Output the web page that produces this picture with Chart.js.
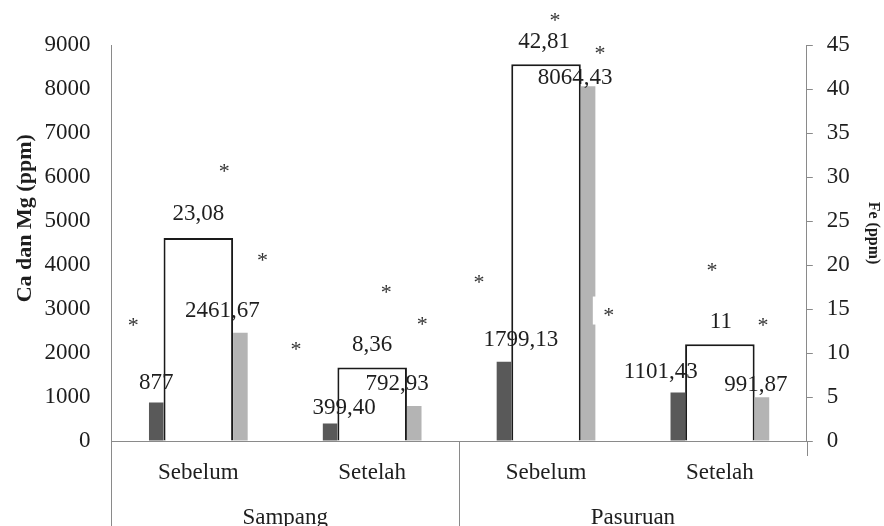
<!DOCTYPE html>
<html><head><meta charset="utf-8">
<script src="https://cdn.jsdelivr.net/npm/chart.js@4.4.0/dist/chart.umd.min.js"></script>
<style>html,body{margin:0;padding:0;background:#fff;}canvas{display:block;}</style>
</head><body>
<canvas id="c" width="884" height="526"></canvas>
<script>
// ---- data ----
const categories = ['Sebelum', 'Setelah', 'Sebelum', 'Setelah'];
const groups = ['Sampang', 'Pasuruan'];
const caValues = [877, 399.40, 1799.13, 1101.43];
const feValues = [23.08, 8.36, 42.81, 11];
const mgValues = [2461.67, 792.93, 8064.43, 991.87];
const leftAxisMax = 9000, leftAxisStep = 1000;
const rightAxisMax = 45, rightAxisStep = 5;
const leftTitle = 'Ca dan Mg (ppm)';
const rightTitle = 'Fe (ppm)';

const SERIF = '"Liberation Serif", "Times New Roman", serif';
const TXT = '#1e1e1e';
const AXIS = '#8a8a8a';
const FS = 23;

function fmt(v) {
  return Number.isInteger(v) ? String(v) : v.toFixed(2).replace('.', ',');
}

// value labels + asterisk markers, placed relative to each bar's top
const annotPlugin = {
  id: 'annot',
  afterDatasetsDraw(chart, args, opts) {
    const ctx = chart.ctx;
    ctx.save();
    ctx.textAlign = 'center';
    ctx.textBaseline = 'middle';
    ctx.font = '22px ' + SERIF;
    chart.data.datasets.forEach((ds, di) => {
      const meta = chart.getDatasetMeta(di);
      const key = ds.key;
      meta.data.forEach((bar, i) => {
        const a = opts.star[key][i];
        const sx = bar.x + a[0], sy = bar.y + a[1];
        ctx.fillStyle = '#fff';
        ctx.fillRect(sx - 16, sy - 14, 32, 28);
        ctx.fillStyle = '#333';
        ctx.fillText('*', sx, sy + 6);
      });
    });
    ctx.font = FS + 'px ' + SERIF;
    chart.data.datasets.forEach((ds, di) => {
      const meta = chart.getDatasetMeta(di);
      const key = ds.key;
      meta.data.forEach((bar, i) => {
        const n = opts.label[key][i];
        ctx.fillStyle = TXT;
        ctx.fillText(fmt(ds.data[i]), bar.x + n[0], bar.y + n[1]);
      });
    });
    ctx.restore();
  },
  afterDraw(chart) {
    const x2 = chart.scales.x2;
    const ca = chart.chartArea;
    const ctx = chart.ctx;
    ctx.save();
    ctx.strokeStyle = AXIS;
    ctx.lineWidth = 1;
    const xs = [x2.getPixelForValue(-0.5), x2.getPixelForValue(0.5)];
    xs.forEach(x => {
      const px = Math.round(x) + 0.5;
      ctx.beginPath(); ctx.moveTo(px, ca.bottom); ctx.lineTo(px, chart.height); ctx.stroke();
    });
    const rx = Math.round(x2.getPixelForValue(1.5)) + 0.5;
    ctx.beginPath(); ctx.moveTo(rx, ca.bottom); ctx.lineTo(rx, ca.bottom + 15); ctx.stroke();
    ctx.restore();
  }
};

new Chart(document.getElementById('c'), {
  type: 'bar',
  data: {
    labels: categories,
    datasets: [
      { key: 'ca', label: 'Ca', data: caValues, yAxisID: 'y', backgroundColor: '#595959',
        categoryPercentage: 0.968, barPercentage: 0.173 },
      { key: 'mg', label: 'Mg', data: mgValues, yAxisID: 'y', backgroundColor: '#b4b4b4',
        categoryPercentage: 0.968, barPercentage: 0.173 },
      { key: 'fe', label: 'Fe', data: feValues, yAxisID: 'y1', backgroundColor: '#ffffff',
        borderColor: '#1a1a1a', borderWidth: 2, grouped: false,
        categoryPercentage: 1, barPercentage: 0.4 }
    ]
  },
  options: {
    responsive: false,
    animation: false,
    devicePixelRatio: 1,
    layout: { padding: { left: 8, right: 1, top: 45, bottom: -4.6 } },
    plugins: {
      legend: { display: false },
      tooltip: { enabled: false },
      annot: {
        label: {
          ca: [[0, -19], [14, -15], [17, -22], [-17, -21]],
          fe: [[0, -24], [0, -22], [-2, -22], [1, -22]],
          mg: [[-18, -22], [-17, -22], [-13, -8], [-6, -12]]
        },
        star: {
          ca: [[-23, -82], [-34, -79], [-25, -85], [-69, -82]],
          fe: [[26, -72], [14, -80], [9, -49], [-8, -79]],
          mg: [[22, -77], [8, -87], [12, -38], [1, -77]]
        }
      }
    },
    scales: {
      x: {
        position: 'bottom',
        grid: { display: false, drawTicks: false },
        border: { display: true, color: AXIS, width: 1 },
        ticks: { color: TXT, font: { family: SERIF, size: FS }, padding: 18.2, maxRotation: 0 }
      },
      x2: {
        type: 'category',
        position: 'bottom',
        labels: groups,
        offset: true,
        grid: { display: false, drawTicks: false },
        border: { display: false },
        ticks: { color: TXT, font: { family: SERIF, size: FS }, padding: -1, maxRotation: 0 }
      },
      y: {
        position: 'left',
        min: 0, max: leftAxisMax,
        grid: { display: true, drawOnChartArea: false, drawTicks: true, tickLength: 19, color: 'rgba(0,0,0,0)' },
        border: { display: true, color: AXIS, width: 1 },
        ticks: { stepSize: leftAxisStep, color: TXT, font: { family: SERIF, size: FS }, padding: 2,
          callback: v => String(v) },
        title: { display: true, text: '         ' + leftTitle, color: TXT,
          font: { family: SERIF, size: 22, weight: 'bold' }, padding: { top: 4, bottom: 4 } }
      },
      y1: {
        position: 'right',
        min: 0, max: rightAxisMax,
        grid: { drawOnChartArea: false, drawTicks: true, tickLength: 6, color: AXIS },
        border: { display: true, color: AXIS, width: 1 },
        ticks: { stepSize: rightAxisStep, color: TXT, font: { family: SERIF, size: FS }, padding: 14 },
        title: { display: true, text: rightTitle + '     ', color: TXT,
          font: { family: SERIF, size: 16, weight: 'bold' }, padding: { top: 0, bottom: 0 } }
      }
    }
  },
  plugins: [annotPlugin]
});
</script>
</body></html>
